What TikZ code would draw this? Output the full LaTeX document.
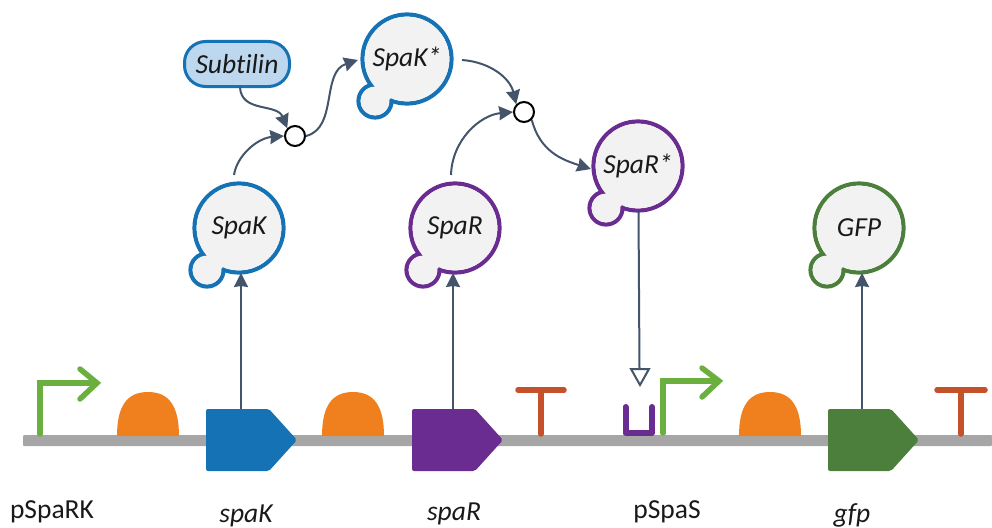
\documentclass[tikz,border=0pt]{standalone}
\usepackage{fontspec}
\setmainfont[RawFeature={-liga;-dlig;-clig}]{Carlito}
\usetikzlibrary{arrows.meta}
\definecolor{cblue}{HTML}{1573B5}
\definecolor{cpurple}{HTML}{6A2C91}
\definecolor{cgreen}{HTML}{4C7F3B}
\definecolor{cbody}{HTML}{F2F2F2}
\definecolor{carrow}{HTML}{44546A}
\definecolor{cline}{HTML}{A6A6A6}
\definecolor{corange}{HTML}{F07F1E}
\definecolor{cprom}{HTML}{6BB03F}
\definecolor{cterm}{HTML}{C5512A}
\definecolor{csub}{HTML}{BDD7EE}
\tikzset{
  proteinlabel/.style={circle,minimum size=92pt,inner sep=0pt,font=\fontsize{27.5}{30}\selectfont\itshape,text=black!90},
  genelabel/.style={font=\fontsize{27.5}{30}\selectfont\itshape,text=black!90},
  plainlabel/.style={font=\fontsize{27.5}{30}\selectfont,text=black!90},
  junction/.style={circle,draw=black,fill=white,line width=2pt,minimum size=20pt,inner sep=0pt},
  flow/.style={draw=carrow,line width=2pt,-{Stealth[length=14pt,width=14pt,inset=1pt]}},
  promoter/.style={draw=cprom,line width=5.5pt,line cap=round,line join=miter},
  term/.style={draw=cterm,line width=5.5pt,line cap=round},
}
\newcommand{\protbody}[3]{% centre x, centre y, colour
  \draw[#3,line width=4.2pt] (#1-32,#2+42) circle (16.5);
  \draw[#3,line width=4.2pt] (#1,#2) circle (44.5);
  \fill[cbody] (#1-32,#2+42) circle (14.4);
  \fill[cbody] (#1,#2) circle (42.4);
  \fill[cbody] (#1-24,#2+33) circle (10);
}
\newcommand{\rbs}[1]{%
  \fill[corange] (#1-31,436) .. controls (#1-31,406) and (#1-21,392) .. (#1,392) .. controls (#1+21,392) and (#1+31,406) .. (#1+31,436) -- cycle;
}
\newcommand{\cds}[2]{%
  \fill[#2,rounded corners=2pt] (#1,409) -- (#1+63,409) -- (#1+91,440) -- (#1+63,471) -- (#1,471) -- cycle;
}
\begin{document}
\begin{tikzpicture}[x=1pt,y=-1pt]
\useasboundingbox (0,0) rectangle (992,527);
% DNA
\fill[cline,rounded corners=1pt] (23,435) rectangle (992,446);
% promoters
\draw[promoter] (40,434) -- (40,383) -- (96,383);
\draw[promoter] (80,369) -- (97,383) -- (80,399);
\draw[promoter] (663,433) -- (663,381) -- (718,381);
\draw[promoter] (702,368) -- (719,381) -- (702,397);
% RBS
\rbs{148}\rbs{353}\rbs{770}
% CDS
\cds{206}{cblue}\cds{412}{cpurple}\cds{828}{cgreen}
% terminators
\draw[term] (541,434) -- (541,390);
\draw[term] (518,390) -- (564,390);
\draw[term] (961,434) -- (961,390);
\draw[term] (937,390) -- (985,390);
% operator
\draw[cpurple,line width=6pt,line cap=round,line join=round] (625.5,407) -- (625.5,433) -- (652,433) -- (652,407);
% proteins
\protbody{239}{228}{cblue}
\protbody{407}{59}{cblue}
\protbody{455}{228}{cpurple}
\protbody{638}{166}{cpurple}
\protbody{859}{228}{cgreen}
\node[proteinlabel] (spak) at (239,228) {\raisebox{-3pt}{SpaK}};
\node[proteinlabel] (spakstar) at (407,59) {\raisebox{-2pt}{SpaK*}};
\node[proteinlabel] (spar) at (455,228) {\raisebox{-3pt}{SpaR}};
\node[proteinlabel] (sparstar) at (638,166) {\raisebox{-2pt}{SpaR*}};
\node[proteinlabel] (gfp) at (859,228) {\raisebox{-3pt}{GFP}};
\node[draw=cblue,fill=csub,line width=3pt,rounded corners=21pt,minimum width=105pt,minimum height=45pt,inner sep=0pt,font=\fontsize{27.5}{30}\selectfont\itshape,text=black!90] (subtilin) at (237,64) {Subtilin};
\node[junction] (j1) at (295,136) {};
\node[junction] (j2) at (524,112) {};
% free ends
\coordinate (spakgene) at (241,409);
\coordinate (spargene) at (453,409);
\coordinate (gfpgene) at (862,409);
\coordinate (sparout) at (638.5,212);
\coordinate (opsite) at (640,385);
\coordinate (subout) at (240,87);
\coordinate (spakout) at (234,175);
\coordinate (spakin) at (358,60);
\coordinate (spakstarout) at (462,60);
\coordinate (sparup) at (451,175);
\coordinate (sparin) at (591,169);
% connectors
\draw[flow] (spakgene) -- (241,273);
\draw[flow] (spargene) -- (453,273);
\draw[flow] (gfpgene) -- (862,273);
\draw[carrow,line width=2pt] (sparout) -- (639.5,369);
\draw[carrow,line width=2pt,fill=white,line join=miter] (631,369) -- (649,369) -- (opsite) -- cycle;
\draw[flow] (subout) .. controls (241,113) and (277,103) .. (j1.north west);
\draw[flow] (spakout) .. controls (237,155) and (258,138) .. (j1.west);
\draw[flow] (j1.east) .. controls (338,128) and (321,72) .. (spakin);
\draw[flow] (spakstarout) .. controls (490,62) and (510,78) .. (j2.north west);
\draw[flow] (sparup) .. controls (452,140) and (480,115) .. (j2.west);
\draw[flow] (j2.south east) .. controls (540,152) and (563,160) .. (sparin);
% labels
\node[plainlabel,anchor=base] (lab1) at (52,518) {pSpaRK};
\node[genelabel,anchor=base] (lab2) at (246,522) {spaK};
\node[genelabel,anchor=base] (lab3) at (454,520) {spaR};
\node[plainlabel,anchor=base] (lab4) at (667,518) {pSpaS};
\node[genelabel,anchor=base] (lab5) at (852,522) {gfp};
\end{tikzpicture}
\end{document}
